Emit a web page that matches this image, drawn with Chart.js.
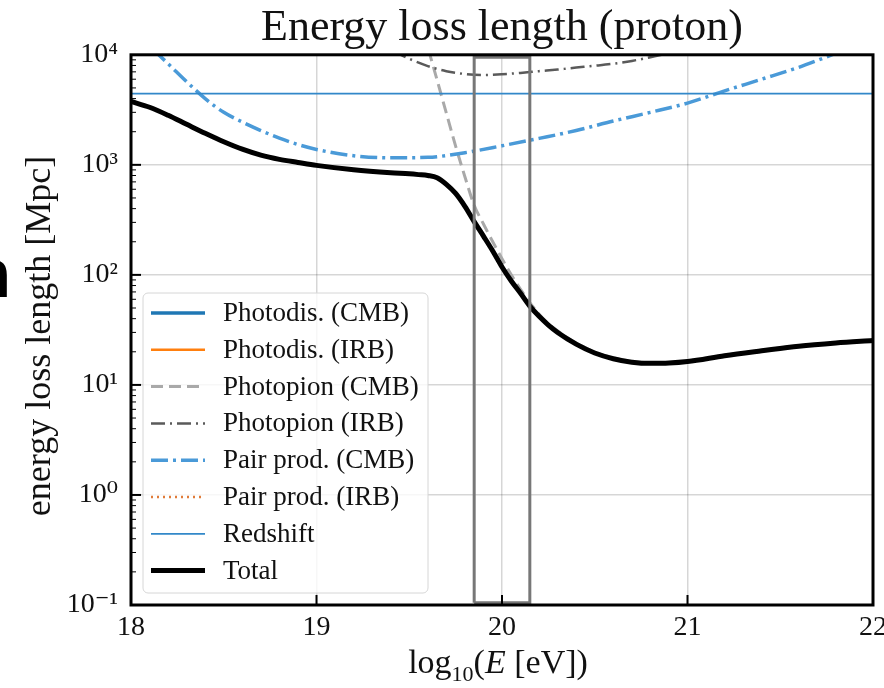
<!DOCTYPE html>
<html>
<head>
<meta charset="utf-8">
<script src="https://cdn.jsdelivr.net/npm/chart.js@4.4.1/dist/chart.umd.min.js"></script>
<style>
  html, body { margin: 0; padding: 0; background: #fff; }
  #wrap { width: 884px; height: 688px; }
</style>
</head>
<body>
<div id="wrap"><canvas id="chart" width="884" height="688"></canvas></div>
<script>
// log10(E/eV) grids and loss lengths in Mpc
const energyTotal = [18.0, 18.1, 18.2, 18.3, 18.4, 18.5, 18.6, 18.7, 18.8, 18.9, 19.0, 19.2, 19.4, 19.5, 19.55, 19.6, 19.65, 19.7, 19.75, 19.8, 19.85, 19.9, 19.95, 20.0, 20.05, 20.1, 20.15, 20.2, 20.25, 20.3, 20.4, 20.5, 20.6, 20.7, 20.8, 20.9, 21.0, 21.2, 21.4, 21.6, 21.8, 22.0];
const lossTotal = [3770, 3335, 2820, 2335, 1936, 1622, 1387, 1225, 1122, 1052, 989, 902, 847, 828, 815, 800, 765, 665, 550, 420, 305, 225, 165, 118, 88, 68, 52, 42, 35, 30, 23.5, 19.5, 17.3, 16.1, 15.7, 15.8, 16.3, 18.4, 20.4, 22.5, 24.1, 25.4];

const energyPair = [18.0, 18.1, 18.2, 18.3, 18.4, 18.5, 18.6, 18.7, 18.8, 18.9, 19.0, 19.2, 19.4, 19.6, 19.8, 20.0, 20.2, 20.4, 20.6, 20.8, 21.0, 21.2, 21.4, 21.6, 21.8, 22.0];
const lossPairCmb = [17500, 12000, 8300, 5700, 4000, 3000, 2450, 2050, 1750, 1530, 1380, 1210, 1160, 1170, 1290, 1490, 1740, 2050, 2500, 3000, 3640, 4700, 6000, 7700, 10300, 13500];

const energyPionIrb = [19.3, 19.4, 19.5, 19.6, 19.7, 19.8, 19.9, 20.0, 20.1, 20.2, 20.3, 20.4, 20.5, 20.6, 20.7, 20.8, 20.9, 21.0];
const lossPionIrb = [15000, 11200, 9200, 7900, 7100, 6700, 6550, 6650, 6850, 7100, 7350, 7650, 7950, 8300, 8800, 9500, 10400, 11500];

const energyPionCmb = [19.55, 19.6, 19.65, 19.7, 19.75, 19.8, 19.85, 19.9, 19.95, 20.0, 20.05, 20.1, 20.15, 20.2, 20.25, 20.3, 20.4, 20.5, 20.6, 20.7, 20.8, 20.9, 21.0, 21.2, 21.4, 21.6, 21.8, 22.0];
const lossPionCmb = [23000, 11700, 5900, 2950, 1480, 780, 430, 290, 200, 140, 100, 74, 56, 44, 36, 31, 24, 19.9, 17.6, 16.4, 15.9, 16.0, 16.5, 18.6, 20.6, 22.7, 24.3, 25.6];

const energyRedshift = [18, 22];
const lossRedshift = [4430, 4430];

// grey window drawn around the GZK energy
const windowEnergy = [19.85, 19.85, 20.15, 20.15, 19.85];
const windowLoss = [0.105, 9500, 9500, 0.105, 0.105];

const yTickValues = [0.1, 1, 10, 100, 1000, 10000];
const yTickLabels = ['10⁻¹', '10⁰', '10¹', '10²', '10³', '10⁴'];
const xTickValues = [18, 19, 20, 21, 22];

const serif = '"Liberation Serif", "DejaVu Serif", serif';

function pts(xs, ys) {
    return xs.map((x, i) => ({ x: x, y: ys[i] }));
}

function serie(label, xs, ys, color, width, dash, order) {
    return {
        label: label,
        data: pts(xs, ys),
        borderColor: color,
        backgroundColor: color,
        borderWidth: width,
        borderDash: dash,
        pointRadius: 0,
        fill: false,
        cubicInterpolationMode: 'monotone',
        order: order,
        showInLegend: true
    };
}

const datasets = [
    serie('Photodis. (CMB)', [], [], '#1f77b4', 3.5, [], 9),
    serie('Photodis. (IRB)', [], [], '#ff7f0e', 2.5, [], 8),
    serie('Photopion (CMB)', energyPionCmb, lossPionCmb, '#a9a9a9', 3, [12, 6], 7),
    serie('Photopion (IRB)', energyPionIrb, lossPionIrb, '#5a5a5a', 2.5, [14, 5, 2, 5], 6),
    serie('Pair prod. (CMB)', energyPair, lossPairCmb, '#4a9ad8', 3.5, [17, 5, 3, 5], 5),
    serie('Pair prod. (IRB)', [], [], '#e07b39', 2.5, [2, 4], 4),
    serie('Redshift', energyRedshift, lossRedshift, '#3288c9', 1.8, [], 3),
    serie('Total', energyTotal, lossTotal, '#000000', 5, [], 2)
];
datasets.push({
    label: 'window',
    data: pts(windowEnergy, windowLoss),
    borderColor: '#777777',
    borderWidth: 3,
    pointRadius: 0,
    fill: false,
    tension: 0,
    order: 1,
    showInLegend: false
});

// frame, inward ticks, legend box and axis labels
const decorPlugin = {
    id: 'decor',
    afterLayout(chart) {
        // centre the title over the axes, as matplotlib does
        const t = chart.titleBlock;
        if (t) {
            t.left = chart.chartArea.left;
            t.right = chart.chartArea.right;
        }
    },
    afterDatasetsDraw(chart) {
        const ctx = chart.ctx;
        const a = chart.chartArea;
        const xs = chart.scales.x, ys = chart.scales.y;
        ctx.save();

        // legend
        const lx = 143, ly = 293, lw = 285, lh = 300;
        ctx.beginPath();
        ctx.roundRect(lx, ly, lw, lh, 5);
        ctx.fillStyle = 'rgba(255,255,255,0.8)';
        ctx.fill();
        ctx.strokeStyle = '#d6d6d6';
        ctx.lineWidth = 1;
        ctx.stroke();
        ctx.font = '27px ' + serif;
        ctx.textBaseline = 'middle';
        ctx.textAlign = 'left';
        let row = 0;
        chart.data.datasets.forEach(ds => {
            if (!ds.showInLegend) return;
            const yy = 313 + row * 36.8;
            ctx.beginPath();
            ctx.setLineDash(ds.borderDash || []);
            ctx.strokeStyle = ds.borderColor;
            ctx.lineWidth = ds.borderWidth;
            ctx.moveTo(151, yy);
            ctx.lineTo(205, yy);
            ctx.stroke();
            ctx.setLineDash([]);
            ctx.fillStyle = '#111';
            ctx.fillText(ds.label, 223, yy + 1);
            row++;
        });

        // inward ticks
        ctx.strokeStyle = '#000';
        for (let e = -1; e < 4; e++) {
            for (let k = 1; k < 10; k++) {
                const py = ys.getPixelForValue(k * Math.pow(10, e));
                ctx.lineWidth = k === 1 ? 2 : 1;
                ctx.beginPath();
                ctx.moveTo(a.left, py);
                ctx.lineTo(a.left + (k === 1 ? 10 : 5), py);
                ctx.stroke();
            }
        }
        xTickValues.slice(1, -1).forEach(v => {
            const px = xs.getPixelForValue(v);
            ctx.lineWidth = 2;
            ctx.beginPath();
            ctx.moveTo(px, a.bottom);
            ctx.lineTo(px, a.bottom - 10);
            ctx.stroke();
        });

        // frame
        ctx.lineWidth = 3;
        ctx.strokeRect(a.left, a.top, a.right - a.left, a.bottom - a.top);

        // y label
        ctx.fillStyle = '#111';
        ctx.save();
        ctx.translate(41, 336);
        ctx.rotate(-Math.PI / 2);
        ctx.font = '36px ' + serif;
        ctx.textAlign = 'center';
        ctx.textBaseline = 'middle';
        ctx.fillText('energy loss length [Mpc]', 0, 0);
        ctx.restore();

        // x label: log10(E [eV])
        const parts = [
            { t: 'log', f: '34px ' + serif, dy: 0 },
            { t: '10', f: '22px ' + serif, dy: 8 },
            { t: '(', f: '34px ' + serif, dy: 0 },
            { t: 'E', f: 'italic 34px ' + serif, dy: 0 },
            { t: ' [eV])', f: '34px ' + serif, dy: 0 }
        ];
        let total = 0;
        parts.forEach(p => { ctx.font = p.f; p.w = ctx.measureText(p.t).width; total += p.w; });
        let cx = 498 - total / 2;
        ctx.textAlign = 'left';
        ctx.textBaseline = 'alphabetic';
        parts.forEach(p => {
            ctx.font = p.f;
            ctx.fillText(p.t, cx, 673 + p.dy);
            cx += p.w;
        });

        // cut-off glyph of the neighbouring panel at the left edge
        ctx.font = 'bold 66px "DejaVu Sans"';
        ctx.fillStyle = '#000';
        ctx.fillText('n', -35, 297);

        ctx.restore();
    }
};

const ctx = document.getElementById('chart').getContext('2d');
new Chart(ctx, {
    type: 'line',
    data: { datasets: datasets },
    options: {
        responsive: false,
        animation: false,
        devicePixelRatio: 1,
        layout: { padding: { left: 0, right: 11, top: 0, bottom: 0 } },
        plugins: {
            legend: { display: false },
            tooltip: { enabled: false },
            title: {
                display: true,
                text: 'Energy loss length (proton)',
                color: '#111',
                font: { family: serif, size: 44, weight: 'normal', lineHeight: 1.2 },
                padding: { top: 2, bottom: 0 }
            }
        },
        scales: {
            x: {
                type: 'linear',
                min: 18,
                max: 22,
                afterBuildTicks: s => { s.ticks = xTickValues.map(v => ({ value: v })); },
                ticks: { color: '#111', font: { family: serif, size: 28, lineHeight: 1.2 }, padding: 6, maxRotation: 0 },
                grid: { color: 'rgba(0,0,0,0.16)', lineWidth: 1.5, drawTicks: false },
                border: { display: false },
                afterFit: s => { s.height = 83; s.paddingLeft = 0; s.paddingRight = 0; }
            },
            y: {
                type: 'logarithmic',
                min: 0.1,
                max: 10000,
                afterBuildTicks: s => { s.ticks = yTickValues.map(v => ({ value: v })); },
                ticks: {
                    color: '#111',
                    font: { family: serif, size: 28, lineHeight: 1.2 },
                    padding: 13,
                    callback: (v, i) => yTickLabels[i]
                },
                grid: { color: 'rgba(0,0,0,0.16)', lineWidth: 1.5, drawTicks: false },
                border: { display: false },
                afterFit: s => { s.width = 131; s.paddingTop = 0; s.paddingBottom = 0; }
            }
        }
    },
    plugins: [decorPlugin]
});
</script>
</body>
</html>
